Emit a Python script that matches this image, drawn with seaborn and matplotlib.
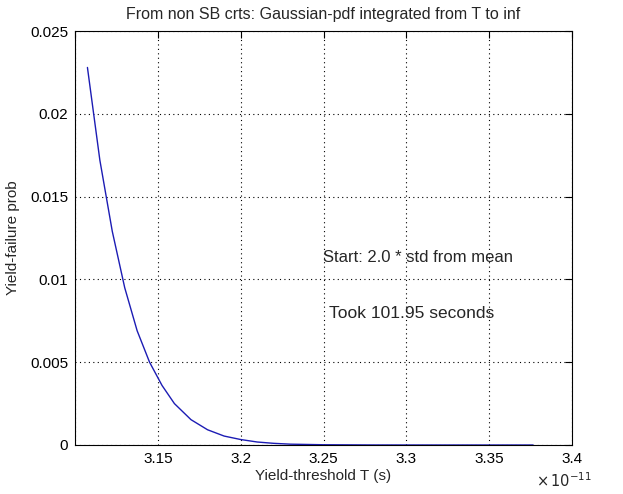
"""Recreation of a MATLAB-style tail-probability chart with seaborn"""
import numpy as np
import pandas as pd
import matplotlib
matplotlib.use('Agg')
import matplotlib.pyplot as plt
import seaborn as sns

# Data (threshold in seconds, probability)
threshold_s = [3.1075e-11, 3.115e-11, 3.1225e-11, 3.13e-11, 3.1375e-11, 3.145e-11,
               3.1525e-11, 3.16e-11, 3.17e-11, 3.18e-11, 3.19e-11, 3.20e-11,
               3.21e-11, 3.22e-11, 3.23e-11, 3.25e-11, 3.28e-11, 3.32e-11, 3.3765e-11]
fail_prob = [0.0228, 0.0172, 0.0129, 0.0095, 0.0069, 0.0050,
             0.0036, 0.0025, 0.00153, 0.00092, 0.00054, 0.00033,
             0.00018, 0.0001, 0.00005, 0.000015, 0.000002, 0.0, 0.0]
x_ticks = [3.1e-11, 3.15e-11, 3.2e-11, 3.25e-11, 3.3e-11, 3.35e-11, 3.4e-11]
x_tick_labels = ['', '3.15', '3.2', '3.25', '3.3', '3.35', '3.4']
y_ticks = [0, 0.005, 0.01, 0.015, 0.02, 0.025]
y_tick_labels = ['0', '0.005', '0.01', '0.015', '0.02', '0.025']

df = pd.DataFrame({'T': threshold_s, 'prob': fail_prob})

sns.set_style('white')
plt.rcParams['font.family'] = ['Liberation Sans', 'DejaVu Sans']
plt.rcParams['font.size'] = 11

fig = plt.figure(figsize=(6.23, 4.94), dpi=100)
ax = fig.add_axes([0.1204, 0.0992, 0.7978, 0.838])

sns.lineplot(data=df, x='T', y='prob', ax=ax, color='#1c1cb4', linewidth=1.0)

ax.set_xlim(3.1e-11, 3.4e-11)
ax.set_ylim(0, 0.025)
ax.set_xticks(x_ticks)
ax.set_xticklabels(x_tick_labels)
ax.set_yticks(y_ticks)
ax.set_yticklabels(y_tick_labels)

# MATLAB-like look: black box, ticks inside on all sides, dotted grid
for s in ax.spines.values():
    s.set_color('black')
    s.set_linewidth(0.8)
ax.tick_params(direction='in', length=5, width=0.8, top=True, right=True,
               labelsize=11, colors='black', pad=5)
ax.grid(True, color='black', linestyle=(0, (1, 3)), linewidth=0.8)

ax.set_xlabel('Yield-threshold T (s)', fontsize=11, labelpad=2)
ax.set_ylabel('Yield-failure prob', fontsize=11, labelpad=7)
ax.set_title('From non SB crts: Gaussian-pdf integrated from T to inf', fontsize=11.5, pad=9)

ax.text(3.2494e-11, 0.01135, 'Start: 2.0 * std from mean', fontsize=12,
        ha='left', va='center')
ax.text(3.2536e-11, 0.00797, 'Took 101.95 seconds', fontsize=12.5,
        ha='left', va='center')

# exponent label as MATLAB draws it
fig.text(0.905, 0.008, r'$\times\,10^{-11}$', fontsize=10.5, ha='center', va='bottom')

fig.savefig('out.png', dpi=100)
